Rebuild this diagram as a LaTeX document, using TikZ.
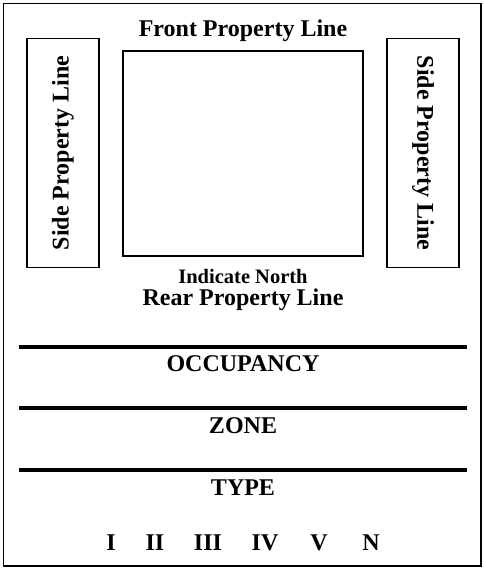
\documentclass[tikz,border=0pt]{standalone}
\usepackage{fontspec}
\setmainfont{Liberation Serif}
\usetikzlibrary{positioning}

\tikzset{
    lbl/.style={anchor=base, inner sep=0pt, font=\bfseries\fontsize{24}{28}\selectfont},
    sidebox/.style={draw, line width=1.8pt, minimum width=229pt, minimum height=72pt, inner sep=0pt, font=\bfseries\fontsize{24}{28}\selectfont},
    rule/.style={line width=4pt}
}

\begin{document}
\begin{tikzpicture}[x=1pt, y=-1pt]
    \useasboundingbox (0,0) rectangle (483,568);

    % Outer frame
    \draw[line width=1.3pt] (3.3,3.3) rectangle (481,566);

    % Lot and property lines
    \node[lbl] (Front) at (243,36) {Front Property Line};
    \node[draw, line width=1.8pt, minimum width=240pt, minimum height=205pt] (Lot) at (243,153.5) {};
    \node[sidebox, rotate=90] (LeftSide) at (63,153) {Side Property Line};
    \node[sidebox, rotate=-90] (RightSide) at (423,153) {Side Property Line};
    \node[lbl, font=\bfseries\fontsize{20.5}{24}\selectfont] (North) at (243,283) {Indicate North};
    \node[lbl] (Rear) at (243,305) {Rear Property Line};

    % Form rows
    \foreach \y in {347, 408, 470}
        \draw[rule] (19,\y) -- (467,\y);
    \node[lbl] (Occupancy) at (243,371.5) {OCCUPANCY};
    \node[lbl] (Zone) at (243,433) {ZONE};
    \node[lbl] (Type) at (243,495) {TYPE};

    % Construction types
    \foreach \x/\t in {111/I, 155/II, 208/III, 265/IV, 319/V, 371/N}
        \node[lbl] (type-\t) at (\x,550) {\t};
\end{tikzpicture}
\end{document}
